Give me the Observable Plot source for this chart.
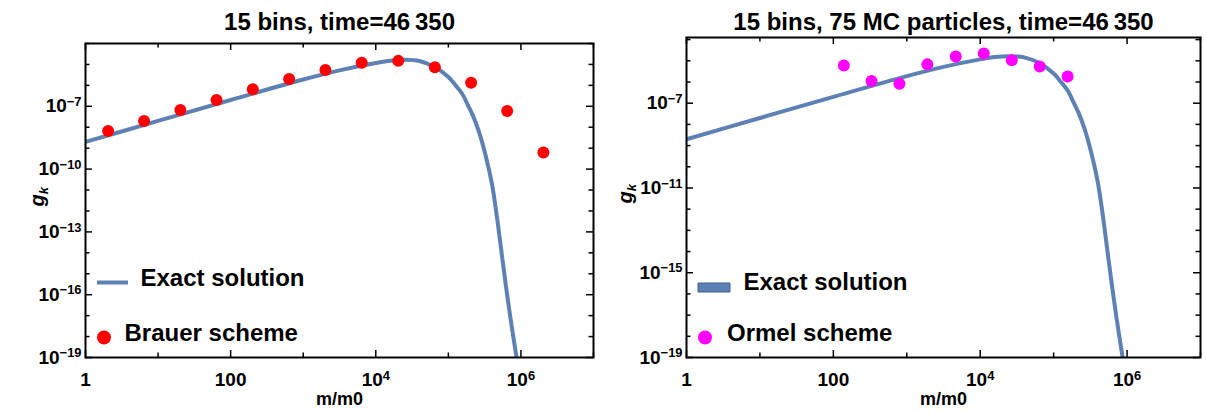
<!DOCTYPE html>
<html><head><meta charset="utf-8">
<script src="https://cdn.jsdelivr.net/npm/d3@7"></script>
<script src="https://cdn.jsdelivr.net/npm/@observablehq/plot@0.6"></script>
<style>
body{margin:0;background:#fff;}
#left{position:absolute;left:0;top:0;width:603px;height:412px;}
#right{position:absolute;left:603px;top:0;width:603px;height:412px;}
</style></head><body><div id="left"></div><div id="right"></div>
<script>
// ---- data ----
const exactM = [1, 10, 100, 1000, 3162, 10000, 15850, 25120, 39810, 64570, 100000, 125900, 154900, 186200, 218800, 263000, 323600, 398100, 467700, 537000, 616600, 716100, 871000, 912000];
const exactG = [2.0e-9, 2.0e-8, 2.0e-7, 1.9e-6, 5.2e-6, 1.17e-5, 1.51e-5, 1.66e-5, 1.45e-5, 7.6e-6, 2.5e-6, 1.0e-6, 4.0e-7, 1.12e-7, 3.5e-8, 6.3e-9, 5.0e-10, 2.0e-11, 5.0e-13, 1.26e-14, 3.2e-16, 7.9e-18, 1.0e-19, 4.0e-20];
const brauerM = [2.05, 6.41, 20.3, 64.0, 202, 640, 2023, 6397, 20400, 65200, 206000, 646000, 2040000];
const brauerG = [6.6e-9, 2.0e-8, 6.6e-8, 2.0e-7, 6.5e-7, 2.04e-6, 5.4e-6, 1.2e-5, 1.48e-5, 7.4e-6, 1.32e-6, 6.0e-8, 6.2e-10];
const ormelM = [139, 331, 794, 1905, 4645, 11170, 26900, 64600, 154900];
const ormelG = [6.0e-6, 1.12e-6, 8.3e-7, 6.8e-6, 1.58e-5, 2.24e-5, 1.07e-5, 5.4e-6, 1.8e-6];
const xLabelTicks = [1, 100, 1e4, 1e6];
const xMinorTicks = [10, 1000, 1e5, 1e7];
const leftYLabelTicks = [1e-19, 1e-16, 1e-13, 1e-10, 1e-7];
const rightYLabelTicks = [1e-19, 1e-15, 1e-11, 1e-7];
const yAllTicks = [1e-19,1e-18,1e-17,1e-16,1e-15,1e-14,1e-13,1e-12,1e-11,1e-10,1e-9,1e-8,1e-7,1e-6,1e-5,1e-4];
const leftTitle = "15 bins, time=46\u2009350";
const rightTitle = "15 bins, 75 MC particles, time=46\u2009350";

const exact = exactM.map((m, i) => ({m, g: exactG[i]}));
const brauer = brauerM.map((m, i) => ({m, g: brauerG[i]}));
const ormel = ormelM.map((m, i) => ({m, g: ormelG[i]}));

const BLUE = "#5E81B5";
const FONT = "'Liberation Sans', Arial, Helvetica, sans-serif";
const W = 603, H = 412, MB = 55;

function fmt(d) {
  const e = Math.round(Math.log10(d));
  if (e === 0) return "1";
  if (e === 2) return "100";
  return "10^" + (e < 0 ? "\u2212" + (-e) : e);
}

const lineSymbol = {draw(c) { c.moveTo(-15.5, 0); c.lineTo(15.5, 0); }};
const rectSymbol = {draw(c) { c.rect(-16, -4.5, 32, 9); }};

function tickMarks(cfg) {
  const fh = H - cfg.mt - MB, fw = W - cfg.ml - cfg.mr;
  const yMinor = yAllTicks.filter(t => !cfg.yLabelTicks.includes(t));
  const maj = 7, min = 4.5;
  const s = {stroke: "black", strokeWidth: 1.5};
  return [
    Plot.ruleX(xLabelTicks, {x: d => d, insetTop: fh - maj, ...s}),
    Plot.ruleX(xMinorTicks, {x: d => d, insetTop: fh - min, ...s}),
    Plot.ruleX(xLabelTicks, {x: d => d, insetBottom: fh - maj, ...s}),
    Plot.ruleX(xMinorTicks, {x: d => d, insetBottom: fh - min, ...s}),
    Plot.ruleY(cfg.yLabelTicks, {y: d => d, insetRight: fw - maj, ...s}),
    Plot.ruleY(yMinor, {y: d => d, insetRight: fw - min, ...s}),
    Plot.ruleY(cfg.yLabelTicks, {y: d => d, insetLeft: fw - maj, ...s}),
    Plot.ruleY(yMinor, {y: d => d, insetLeft: fw - min, ...s}),
    Plot.axisX(xLabelTicks, {anchor: "bottom", tickSize: 0, tickPadding: 15, tickFormat: fmt, fontSize: 19, fontWeight: "bold", fill: "black", label: null}),
    Plot.axisY(cfg.yLabelTicks, {anchor: "left", tickSize: 0, tickPadding: 4, tickFormat: fmt, fontSize: 19, fontWeight: "bold", fill: "black", label: null})
  ];
}

function panel(cfg) {
  return Plot.plot({
    width: W, height: H,
    marginLeft: cfg.ml, marginRight: cfg.mr, marginTop: cfg.mt, marginBottom: MB,
    style: {fontFamily: FONT, background: "white", color: "black", overflow: "visible"},
    x: {type: "log", domain: [1, 1e7], axis: null, label: null},
    y: {type: "log", domain: cfg.yDomain, axis: null, label: null},
    marks: [
      Plot.line(exact, {x: "m", y: "g", stroke: BLUE, strokeWidth: 4, curve: "catmull-rom", clip: true}),
      Plot.dot(cfg.points, {x: "m", y: "g", r: 6, fill: cfg.color}),
      Plot.frame({stroke: "black", strokeWidth: 2}),
      ...tickMarks(cfg),
      Plot.text([cfg.title], {text: d => d, frameAnchor: "top", dy: cfg.titleDy, fontSize: 24, fontWeight: "bold", lineAnchor: "middle", fill: "black"}),
      Plot.text(["m/m0"], {text: d => d, frameAnchor: "bottom", dy: 42, fontSize: 18, fontWeight: "bold", lineAnchor: "middle", fill: "black"}),
      Plot.text(["g_k"], {text: d => d, frameAnchor: "left", dx: cfg.gDx, dy: 6, rotate: -90, fontSize: 20, fontWeight: "bold", fontStyle: "italic", lineAnchor: "middle", fill: "black"}),
      // legend
      cfg.rectLegend
        ? Plot.dot(["Exact solution"], {frameAnchor: "bottom-left", dx: 27.5, dy: -70, symbol: rectSymbol, fill: BLUE, stroke: "#41618f", strokeWidth: 1})
        : Plot.dot(["Exact solution"], {frameAnchor: "bottom-left", dx: 27, dy: -75, symbol: lineSymbol, fill: "none", stroke: BLUE, strokeWidth: 4}),
      Plot.text(["Exact solution"], {text: d => d, frameAnchor: "bottom-left", dx: cfg.legDx1, dy: cfg.legDy1, textAnchor: "start", fontSize: 24, fontWeight: "bold", lineAnchor: "middle", fill: "black"}),
      Plot.dot([cfg.name], {frameAnchor: "bottom-left", dx: 18.5, dy: -20, r: 7, fill: cfg.color}),
      Plot.text([cfg.name], {text: d => d, frameAnchor: "bottom-left", dx: cfg.legDx2, dy: -24, textAnchor: "start", fontSize: 24, fontWeight: "bold", lineAnchor: "middle", fill: "black"})
    ]
  });
}

function scripts(svg) {
  const ns = "http://www.w3.org/2000/svg";
  svg.querySelectorAll("text").forEach(t => {
    if (t.querySelector("tspan")) return;
    const s = t.textContent;
    const sep = s.includes("^") ? "^" : s.includes("_") ? "_" : null;
    if (!sep) return;
    const [b, e] = s.split(sep);
    t.textContent = "";
    const t1 = document.createElementNS(ns, "tspan"); t1.textContent = b;
    const t2 = document.createElementNS(ns, "tspan"); t2.textContent = e;
    if (sep === "^") { t2.setAttribute("dy", "-0.5em"); t2.setAttribute("font-size", "0.68em"); }
    else { t2.setAttribute("dy", "0.3em"); t2.setAttribute("font-size", "0.65em"); }
    t.append(t1, t2);
  });
}

const left = panel({ml: 85, mr: 10, mt: 43, yDomain: [1e-19, 1e-4], yLabelTicks: leftYLabelTicks,
  points: brauer, color: "#FF0000", title: leftTitle, titleDy: -21, name: "Brauer scheme", gDx: -48,
  rectLegend: false, legDx1: 55, legDy1: -79, legDx2: 39});
const right = panel({ml: 83, mr: 6, mt: 37, yDomain: [1e-19, 1.26e-4], yLabelTicks: rightYLabelTicks,
  points: ormel, color: "#FF00FF", title: rightTitle, titleDy: -15, name: "Ormel scheme", gDx: -61,
  rectLegend: true, legDx1: 57, legDy1: -75, legDx2: 40.5});
scripts(left); scripts(right);
document.getElementById("left").append(left);
document.getElementById("right").append(right);
</script></body></html>
